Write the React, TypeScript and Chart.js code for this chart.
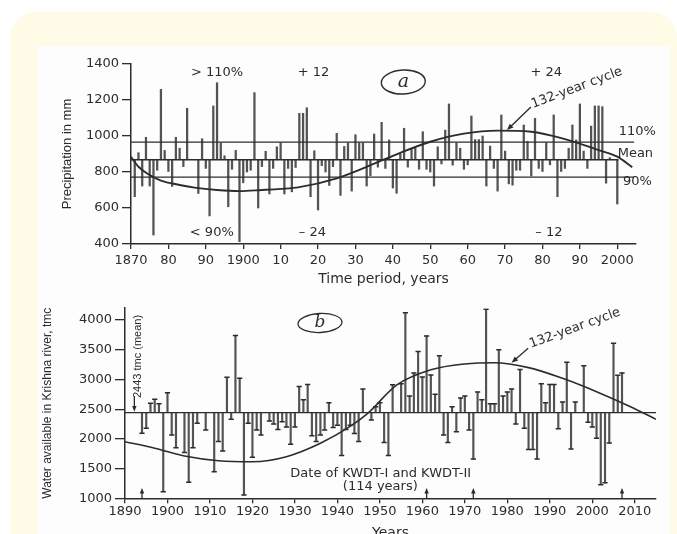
import React, { useEffect, useRef } from "react";
import { Chart, registerables } from "chart.js";
Chart.register(...registerables);

// ---------- Panel (a): precipitation ----------
const topYears = [
  1871, 1872, 1873, 1874, 1875, 1876, 1877, 1878, 1879, 1880, 1881, 1882, 1883, 1884, 1885,
  1888, 1889, 1890, 1891, 1892, 1893, 1894, 1895, 1896, 1897, 1898, 1899, 1900, 1901, 1902,
  1903, 1904, 1905, 1906, 1907, 1908, 1909, 1910, 1911, 1912, 1913, 1914, 1915, 1916, 1917,
  1918, 1919, 1920, 1921, 1922, 1923, 1924, 1925, 1926, 1927, 1928, 1929, 1930, 1931, 1932,
  1933, 1934, 1935, 1936, 1937, 1938, 1939, 1940, 1941, 1942, 1943, 1944, 1945, 1946, 1947,
  1948, 1949, 1950, 1951, 1952, 1953, 1954, 1955, 1956, 1957, 1958, 1959, 1960, 1961, 1962,
  1963, 1964, 1965, 1966, 1967, 1968, 1969, 1970, 1971, 1972, 1973, 1974, 1975, 1976, 1977,
  1978, 1979, 1980, 1981, 1982, 1983, 1984, 1985, 1986, 1987, 1988, 1989, 1990, 1991, 1992,
  1993, 1994, 1995, 1996, 1997, 1998, 2000,
];
const topPrecip = [
  663, 907, 722, 993, 722, 450, 810, 1259, 920, 803, 720, 993, 932, 830, 1154,
  681, 985, 820, 556, 1167, 1296, 960, 890, 607, 815, 920, 413, 740, 800, 810,
  1241, 600, 830, 915, 678, 820, 940, 962, 678, 820, 690, 825, 1126, 1126, 1157,
  663, 918, 589, 835, 800, 725, 830, 1015, 670, 942, 962, 694, 1007, 962, 962,
  722, 780, 1011, 827, 1076, 820, 978, 711, 682, 900, 1043, 827, 925, 932, 815,
  1024, 815, 800, 722, 940, 845, 1033, 1178, 838, 962, 932, 815, 840, 1111, 980,
  980, 1000, 722, 944, 820, 694, 1117, 916, 734, 727, 810, 810, 1061, 970, 778,
  1098, 820, 803, 962, 840, 1117, 663, 803, 820, 932, 1061, 978, 1178, 916, 820,
  1055, 1167, 1167, 1163, 738, 880, 622,
];
const topMean = 868;
const top110 = 966;
const top90 = 772;
const topCurveYears = [1870, 1872, 1875, 1878, 1883, 1887, 1893, 1899, 1905, 1910, 1915, 1925, 1932, 1941, 1950, 1959, 1968, 1977, 1986, 1995, 2000, 2004];
const topCurveValues = [885, 829, 783, 752, 728, 713, 700, 694, 700, 706, 716, 765, 820, 898, 968, 1013, 1030, 1024, 983, 922, 885, 826];
const topTickYears = [1870, 1880, 1890, 1900, 1910, 1920, 1930, 1940, 1950, 1960, 1970, 1980, 1990, 2000];
const topTickLabels = ["1870", "80", "90", "1900", "10", "20", "30", "40", "50", "60", "70", "80", "90", "2000"];
const topYTicks = [400, 600, 800, 1000, 1200, 1400];

// ---------- Panel (b): Krishna river flow ----------
const botYears = [
  1894, 1895, 1896, 1897, 1898, 1899, 1900, 1901, 1902, 1904, 1905, 1906, 1907, 1909, 1911,
  1912, 1913, 1914, 1915, 1916, 1917, 1918, 1919, 1920, 1921, 1922, 1924, 1925, 1926, 1927,
  1928, 1929, 1930, 1931, 1932, 1933, 1934, 1935, 1936, 1937, 1938, 1939, 1940, 1941, 1942,
  1943, 1944, 1945, 1946, 1948, 1949, 1950, 1951, 1952, 1953, 1955, 1956, 1957, 1958, 1959,
  1960, 1961, 1962, 1963, 1964, 1965, 1966, 1967, 1968, 1969, 1970, 1971, 1972, 1973, 1974,
  1975, 1976, 1977, 1978, 1979, 1980, 1981, 1982, 1983, 1984, 1985, 1986, 1987, 1988, 1989,
  1990, 1991, 1992, 1993, 1994, 1995, 1996, 1998, 1999, 2000, 2001, 2002, 2003, 2004, 2005,
  2006, 2007,
];
const botFlow = [
  2094, 2179, 2600, 2666, 2590, 1111, 2778, 2066, 1853, 1770, 1270, 1853, 2263, 2150, 1448,
  1955, 1797, 3038, 2330, 3740, 3022, 1055, 2263, 1690, 2150, 2066, 2300, 2250, 2160, 2290,
  2200, 1910, 2200, 2880, 2660, 2915, 2055, 1955, 2066, 2150, 2610, 2190, 2230, 1720, 2160,
  2230, 2090, 1955, 2840, 2320, 2540, 2610, 1940, 1720, 2910, 2930, 4125, 2720, 3110, 3470,
  3040, 3733, 3075, 2750, 3400, 2066, 1940, 2540, 2120, 2690, 2720, 2150, 1660, 2790, 2660,
  4183, 2590, 2590, 3500, 2720, 2790, 2840, 2250, 3170, 2180, 1820, 1820, 1660, 2930, 2610,
  2915, 2915, 2170, 2620, 3290, 1830, 2620, 3230, 2280, 2200, 2010, 1230, 1260, 1930, 3610,
  3070, 3110,
];
const botMean = 2443;
const botCurveYears = [1890, 1897, 1904, 1912, 1920, 1928, 1936, 1943, 1947, 1954, 1962, 1970, 1977, 1985, 1993, 2001, 2009, 2015];
const botCurveValues = [1953, 1842, 1712, 1633, 1616, 1700, 1926, 2210, 2420, 2908, 3163, 3262, 3283, 3200, 3020, 2795, 2542, 2330];
const botTickYears = [1890, 1900, 1910, 1920, 1930, 1940, 1950, 1960, 1970, 1980, 1990, 2000, 2010];
const botTickLabels = ["1890", "1900", "1910", "1920", "1930", "1940", "1950", "1960", "1970", "1980", "1990", "2000", "2010"];
const botYTicks = [1000, 1500, 2000, 2500, 3000, 3500, 4000];
const botArrowYears = [1894, 1961, 1972, 2007];

// ---------- Styling ----------
const INK = "#2c2c2c";
const BAR = "rgba(45,45,45,0.82)";
const SANS = "'DejaVu Sans', sans-serif";
const ARIAL = "'Liberation Sans', Arial, sans-serif";

function arrow(ctx: CanvasRenderingContext2D, x1: number, y1: number, x2: number, y2: number, head = 6) {
  const a = Math.atan2(y2 - y1, x2 - x1);
  ctx.beginPath();
  ctx.moveTo(x1, y1);
  ctx.lineTo(x2 - Math.cos(a) * head * 0.6, y2 - Math.sin(a) * head * 0.6);
  ctx.stroke();
  ctx.beginPath();
  ctx.moveTo(x2, y2);
  ctx.lineTo(x2 - head * Math.cos(a - 0.38), y2 - head * Math.sin(a - 0.38));
  ctx.lineTo(x2 - head * Math.cos(a + 0.38), y2 - head * Math.sin(a + 0.38));
  ctx.closePath();
  ctx.fill();
}

type Note = { text: string; x: number; y: number; align?: CanvasTextAlign; font?: string; rot?: number };

function notesPlugin(id: string, notes: Note[], extra: (chart: any, px: (v: number) => number, py: (v: number) => number) => void) {
  return {
    id,
    afterDatasetsDraw(chart: any) {
      const { ctx } = chart;
      const px = (v: number) => chart.scales.x.getPixelForValue(v);
      const py = (v: number) => chart.scales.y.getPixelForValue(v);
      ctx.save();
      ctx.fillStyle = INK;
      ctx.strokeStyle = INK;
      ctx.textBaseline = "middle";
      for (const n of notes) {
        ctx.save();
        ctx.font = n.font || `13px ${SANS}`;
        ctx.textAlign = n.align || "center";
        ctx.translate(px(n.x), py(n.y));
        if (n.rot) ctx.rotate((n.rot * Math.PI) / 180);
        ctx.fillText(n.text, 0, 0);
        ctx.restore();
      }
      extra(chart, px, py);
      ctx.restore();
    },
  };
}

const topNotes: Note[] = [
  { text: "> 110%", x: 1893, y: 1350 },
  { text: "+ 12", x: 1918.8, y: 1350 },
  { text: "+ 24", x: 1981, y: 1350 },
  { text: "< 90%", x: 1891.6, y: 461 },
  { text: "\u2013 24", x: 1918.5, y: 461 },
  { text: "\u2013 12", x: 1981.7, y: 461 },
  { text: "110%", x: 2000.4, y: 1022, align: "left" },
  { text: "Mean", x: 2000.1, y: 903, align: "left" },
  { text: "90%", x: 2001.5, y: 744, align: "left" },
  { text: "132-year cycle", x: 1989.2, y: 1267, rot: -20.5 },
];

const botNotes: Note[] = [
  { text: "Date of KWDT-I and KWDT-II", x: 1950.2, y: 1409 },
  { text: "(114 years)", x: 1950.1, y: 1190 },
  { text: "2443 tmc (mean)", x: 1893.1, y: 3387, rot: -90, font: `11px ${ARIAL}` },
  { text: "132-year cycle", x: 1995.9, y: 3862, rot: -20 },
];

function axisCommon(min: number, max: number, ticks: number[], labels: string[] | null, tickLen: number, pad: number, fit: (s: any) => void, title: any) {
  return {
    type: "linear",
    min,
    max,
    offset: false,
    afterBuildTicks: (s: any) => {
      s.ticks = ticks.map((v) => ({ value: v }));
    },
    afterFit: fit,
    ticks: {
      autoSkip: false,
      maxRotation: 0,
      minRotation: 0,
      padding: pad,
      color: INK,
      font: { family: SANS, size: 13 },
      callback: (v: number) => (labels ? labels[ticks.indexOf(v)] : String(v)),
    },
    grid: { drawOnChartArea: false, offset: false, drawTicks: true, tickLength: tickLen, color: INK, lineWidth: 1.3 },
    border: { display: true, color: INK, width: 1.5 },
    title,
  };
}

function TopChart() {
  const ref = useRef<HTMLCanvasElement>(null);
  useEffect(() => {
    const chart = new Chart(ref.current as HTMLCanvasElement, {
      type: "bar",
      data: {
        datasets: [
          {
            type: "bar",
            data: topYears.map((yr, i) => ({ x: yr, y: [topMean, topPrecip[i]] })),
            backgroundColor: BAR,
            borderWidth: 0,
            barThickness: 1.6,
            grouped: false,
          } as any,
          { type: "line", data: [{ x: 1870, y: top110 }, { x: 2004.5, y: top110 }], borderColor: INK, borderWidth: 1.3, pointRadius: 0 } as any,
          { type: "line", data: [{ x: 1870, y: topMean }, { x: 2000.3, y: topMean }], borderColor: INK, borderWidth: 1.3, pointRadius: 0 } as any,
          { type: "line", data: [{ x: 1870, y: top90 }, { x: 2004.5, y: top90 }], borderColor: INK, borderWidth: 1.3, pointRadius: 0 } as any,
          {
            type: "line",
            data: topCurveYears.map((yr, i) => ({ x: yr, y: topCurveValues[i] })),
            borderColor: INK,
            borderWidth: 1.9,
            pointRadius: 0,
            cubicInterpolationMode: "monotone",
          } as any,
        ],
      },
      options: {
        animation: false,
        responsive: false,
        layout: { padding: { left: 19, right: 34, top: 18, bottom: 0 } },
        plugins: { legend: { display: false }, tooltip: { enabled: false } },
        scales: {
          x: axisCommon(1870, 2005, topTickYears, topTickLabels, 5, 4, (s: any) => { s.height = 48; }, {
            display: true, text: "Time period, years", color: INK, font: { family: SANS, size: 14 }, padding: { top: 4, bottom: 4 },
          }),
          y: axisCommon(400, 1400, topYTicks, null, 9, 3, (s: any) => { s.width = 75; }, {
            display: true, text: "Precipitation in mm", color: INK, font: { family: ARIAL, size: 13 }, padding: { top: 4, bottom: 4 },
          }),
        } as any,
      },
      plugins: [
        notesPlugin("topNotes", topNotes, (chart, px, py) => {
          const ctx = chart.ctx;
          ctx.lineWidth = 1.4;
          arrow(ctx, px(1976.9), py(1161), px(1970.5), py(1033), 7);
          ctx.beginPath();
          ctx.ellipse(px(1942.8), py(1300), 22, 12, -0.05, 0, Math.PI * 2);
          ctx.stroke();
          ctx.font = `italic 19px 'DejaVu Serif', serif`;
          ctx.textAlign = "center";
          ctx.fillText("a", px(1942.8), py(1300));
        }),
      ],
    } as any);
    return () => chart.destroy();
  }, []);
  return <canvas ref={ref} width={633} height={246} style={{ position: "absolute", left: 37, top: 46, width: 633, height: 246 }} />;
}

function BottomChart() {
  const ref = useRef<HTMLCanvasElement>(null);
  useEffect(() => {
    const chart = new Chart(ref.current as HTMLCanvasElement, {
      type: "bar",
      data: {
        datasets: [
          {
            type: "bar",
            data: botYears.map((yr, i) => ({ x: yr, y: [botMean, botFlow[i]] })),
            backgroundColor: BAR,
            borderWidth: 0,
            barThickness: 1.5,
            grouped: false,
          } as any,
          {
            type: "line",
            showLine: false,
            data: botYears.map((yr, i) => ({ x: yr, y: botFlow[i] })),
            pointStyle: "line",
            pointRadius: 2.6,
            pointBorderWidth: 1.5,
            pointBorderColor: INK,
            borderColor: INK,
          } as any,
          { type: "line", data: [{ x: 1890, y: botMean }, { x: 2015, y: botMean }], borderColor: INK, borderWidth: 1.3, pointRadius: 0 } as any,
          {
            type: "line",
            data: botCurveYears.map((yr, i) => ({ x: yr, y: botCurveValues[i] })),
            borderColor: INK,
            borderWidth: 1.6,
            pointRadius: 0,
            cubicInterpolationMode: "monotone",
          } as any,
        ],
      },
      options: {
        animation: false,
        responsive: false,
        layout: { padding: { left: 0, right: 14, top: 16.2, bottom: 0 } },
        plugins: { legend: { display: false }, tooltip: { enabled: false } },
        scales: {
          x: axisCommon(1890, 2015, botTickYears, botTickLabels, 5, 1, (s: any) => { s.height = 43.7; }, {
            display: true, text: "Years", color: INK, font: { family: SANS, size: 14 }, padding: { top: 0, bottom: 0 },
          }),
          y: axisCommon(1000, 4200, botYTicks, null, 10, 3, (s: any) => { s.width = 88; }, {
            display: true, text: "Water available in Krishna river, tmc", color: INK, font: { family: ARIAL, size: 12 }, padding: { top: 3, bottom: 3 },
          }),
        } as any,
      },
      plugins: [
        notesPlugin("botNotes", botNotes, (chart, px, py) => {
          const ctx = chart.ctx;
          ctx.lineWidth = 1.3;
          for (const yr of botArrowYears) arrow(ctx, px(yr), py(1000), px(yr), py(1175), 6);
          arrow(ctx, px(1892.2), py(2710), px(1892.2), py(botMean + 15), 6);
          arrow(ctx, px(1984.9), py(3525), px(1981), py(3283), 7);
          ctx.beginPath();
          ctx.ellipse(px(1935.9), py(3951), 22, 9.5, -0.05, 0, Math.PI * 2);
          ctx.stroke();
          ctx.font = `italic 17px 'DejaVu Serif', serif`;
          ctx.textAlign = "center";
          ctx.fillText("b", px(1935.9), py(3951));
        }),
      ],
    } as any);
    return () => chart.destroy();
  }, []);
  return <canvas ref={ref} width={633} height={250} style={{ position: "absolute", left: 37, top: 292, width: 633, height: 250 }} />;
}

export default function App() {
  return (
    <div style={{ position: "absolute", left: 0, top: 0, width: 677, height: 534, overflow: "hidden", background: "#ffffff" }}>
      <div style={{ position: "absolute", left: 10, top: 12, width: 667, height: 560, borderRadius: 26, background: "#fffbe6" }} />
      <div style={{ position: "absolute", left: 37, top: 46, width: 633, height: 488, background: "#fdfdfd" }} />
      <TopChart />
      <BottomChart />
    </div>
  );
}
